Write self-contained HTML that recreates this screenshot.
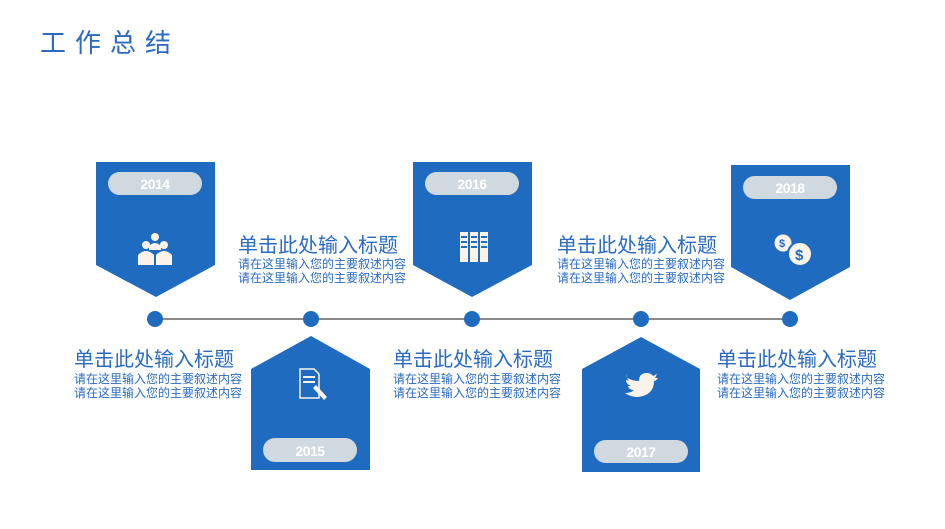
<!DOCTYPE html>
<html><head><meta charset="utf-8">
<style>
html,body{margin:0;padding:0;background:#fff;width:945px;height:529px;overflow:hidden}
svg{display:block}
.t{font-family:"Liberation Sans","Noto Sans CJK SC",sans-serif;fill:#2a6bbf}
.yr{font-family:"Liberation Sans",sans-serif;font-weight:bold;fill:#fff;font-size:14px;letter-spacing:-0.5px}
</style></head><body>
<svg width="945" height="529" viewBox="0 0 945 529" xmlns="http://www.w3.org/2000/svg">
<text x="40" y="52" class="t" font-size="26" letter-spacing="9">工作总结</text>
<line x1="155" y1="319" x2="790" y2="319" stroke="#444" stroke-width="1.2"/>
<g fill="#1f6bc0">
<polygon points="96,162 215,162 215,265 156,297 96,265"/>
<polygon points="413,162 532,162 532,265 472,297 413,265"/>
<polygon points="731,165 850,165 850,267 790,300 731,267"/>
<polygon points="251,369 311,336 370,369 370,470 251,470"/>
<polygon points="582,369 641,337 700,369 700,472 582,472"/>
<circle cx="155" cy="319" r="8"/><circle cx="311" cy="319" r="8"/><circle cx="472" cy="319" r="8"/><circle cx="641" cy="319" r="8"/><circle cx="790" cy="319" r="8"/>
</g>
<g fill="#cfd9df">
<rect x="108" y="172" width="94" height="23" rx="11.5"/>
<rect x="425" y="172" width="94" height="23" rx="11.5"/>
<rect x="743" y="176" width="94" height="23" rx="11.5"/>
<rect x="263" y="438" width="94" height="24" rx="12"/>
<rect x="594" y="440" width="94" height="23" rx="11.5"/>
</g>
<text x="155" y="189" class="yr" text-anchor="middle">2014</text>
<text x="472" y="189" class="yr" text-anchor="middle">2016</text>
<text x="790" y="193" class="yr" text-anchor="middle">2018</text>
<text x="310" y="456" class="yr" text-anchor="middle">2015</text>
<text x="641" y="457" class="yr" text-anchor="middle">2017</text>
<g fill="#fbf3ea">
<circle cx="155" cy="237" r="4"/><path d="M149,250 v-4 q6,-6 12,0 v4z"/>
<circle cx="146" cy="245" r="4"/><path d="M138,265 v-10 q8,-8 16,0 v10z"/>
<circle cx="164" cy="245" r="4"/><path d="M156,265 v-10 q8,-8 16,0 v10z"/>
<rect x="460" y="232" width="8" height="30"/><rect x="470" y="232" width="8" height="30"/><rect x="480" y="232" width="8" height="30"/>
<circle cx="783" cy="243" r="8.5"/><circle cx="800" cy="254" r="12" stroke="#1f6bc0" stroke-width="2"/>
<path d="M627,378 q6,3 12,3 q0,-8 8,-8 q4,0 6,3 l4,-2 l-2,4 l3,0 q-2,3 -4,3 q0,14 -16,16 q-8,0 -13,-4 q6,0 9,-3 q-5,0 -6,-4 l3,0 q-5,-2 -5,-6 l3,1 q-3,-3 -2,-7z"/>
</g>
<g fill="#1f6bc0" font-family="Liberation Sans" font-weight="bold"><text x="779" y="247" font-size="11">$</text><text x="795" y="260" font-size="15">$</text></g>
<g fill="#1f6bc0"><rect x="461" y="236" width="6" height="2"/><rect x="471" y="236" width="6" height="2"/><rect x="481" y="236" width="6" height="2"/><rect x="461" y="241" width="6" height="2"/><rect x="471" y="241" width="6" height="2"/><rect x="481" y="241" width="6" height="2"/><rect x="461" y="246" width="6" height="2"/><rect x="471" y="246" width="6" height="2"/><rect x="481" y="246" width="6" height="2"/></g>
<g stroke="#fbf3ea" stroke-width="1.5" fill="none"><path d="M300,369 h14 l5,5 v24 h-19z"/></g>
<g fill="#fbf3ea"><rect x="303" y="376" width="12" height="2"/><rect x="303" y="381" width="12" height="2"/><path d="M313,388 l3,-3 l11,12 l-3,3z"/></g>
<g class="t">
<text x="238" y="252" font-size="20">单击此处输入标题</text>
<text x="238" y="268" font-size="12">请在这里输入您的主要叙述内容</text>
<text x="238" y="282" font-size="12">请在这里输入您的主要叙述内容</text>
<text x="557" y="252" font-size="20">单击此处输入标题</text>
<text x="557" y="268" font-size="12">请在这里输入您的主要叙述内容</text>
<text x="557" y="282" font-size="12">请在这里输入您的主要叙述内容</text>
<text x="74" y="366" font-size="20">单击此处输入标题</text>
<text x="74" y="383" font-size="12">请在这里输入您的主要叙述内容</text>
<text x="74" y="397" font-size="12">请在这里输入您的主要叙述内容</text>
<text x="393" y="366" font-size="20">单击此处输入标题</text>
<text x="393" y="383" font-size="12">请在这里输入您的主要叙述内容</text>
<text x="393" y="397" font-size="12">请在这里输入您的主要叙述内容</text>
<text x="717" y="366" font-size="20">单击此处输入标题</text>
<text x="717" y="383" font-size="12">请在这里输入您的主要叙述内容</text>
<text x="717" y="397" font-size="12">请在这里输入您的主要叙述内容</text>
</g>
</svg>
</body></html>
